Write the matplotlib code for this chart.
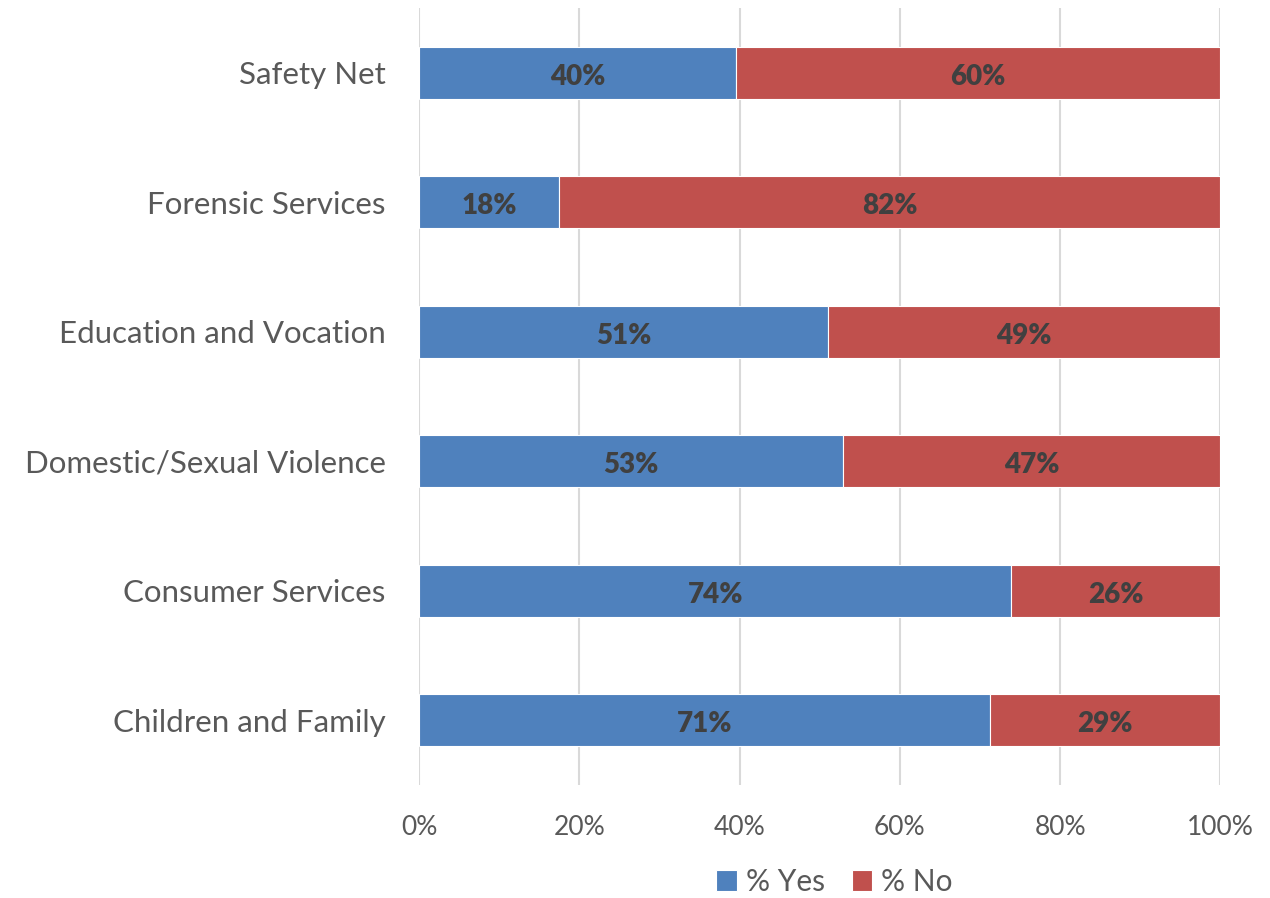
import matplotlib
matplotlib.use("Agg")
import matplotlib.pyplot as plt
import numpy as np

categories = ["Children and Family", "Consumer Services", "Domestic/Sexual Violence",
              "Education and Vocation", "Forensic Services", "Safety Net"]
pct_yes = [71.2, 73.9, 52.9, 51.0, 17.5, 39.5]
pct_no = [28.8, 26.1, 47.1, 49.0, 82.5, 60.5]
yes_labels = ["71%", "74%", "53%", "51%", "18%", "40%"]
no_labels = ["29%", "26%", "47%", "49%", "82%", "60%"]
xticks = [0, 20, 40, 60, 80, 100]

plt.rcParams['font.family'] = ['Lato', 'DejaVu Sans']

fig = plt.figure(figsize=(12.7, 8.98), dpi=100)
ax = fig.add_axes([0.33, 0.126, 0.631, 0.865])

y = np.arange(len(categories))
blue = "#4F81BD"
red = "#C0504D"
b1 = ax.barh(y, pct_yes, height=0.4, color=blue, edgecolor="white", linewidth=0.8, label="% Yes", zorder=3)
b2 = ax.barh(y, pct_no, left=pct_yes, height=0.4, color=red, edgecolor="white", linewidth=0.8, label="% No", zorder=3)

# value labels sit a touch below bar centre
for i in range(len(categories)):
    ax.text(pct_yes[i] / 2, y[i] - 0.03, yes_labels[i], ha="center", va="center",
            fontsize=20, fontweight="heavy", color="#404040", zorder=4)
    ax.text(pct_yes[i] + pct_no[i] / 2, y[i] - 0.03, no_labels[i], ha="center", va="center",
            fontsize=20, fontweight="heavy", color="#404040", zorder=4)

ax.set_xlim(0, 100)
ax.set_ylim(-0.5, 5.5)
ax.set_xticks(xticks)
ax.set_xticklabels([f"{t}%" for t in xticks])
ax.set_yticks(y)
ax.set_yticklabels(categories)
ax.tick_params(axis="x", length=0, labelsize=19, labelcolor="#595959", pad=22)
ax.tick_params(axis="y", length=0, labelsize=22.5, labelcolor="#595959", pad=24)
ax.grid(axis="x", color="#D9D9D9", linewidth=1.5, zorder=0)
for s in ax.spines.values():
    s.set_visible(False)

fig.legend(handles=[b1, b2], loc="center", bbox_to_anchor=(0.657, 0.018), ncol=2,
           frameon=False, fontsize=21.5, labelcolor="#595959", handlelength=0.7,
           handleheight=0.7, handletextpad=0.3, columnspacing=0.9)

fig.savefig("out.png", dpi=100)
